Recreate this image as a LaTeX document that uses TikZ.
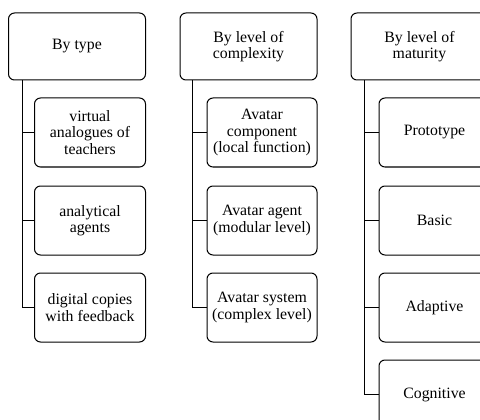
\documentclass[tikz,border=0pt]{standalone}
\usepackage{fontspec}
\setmainfont{Liberation Serif}
\usepackage{tikz}
\usetikzlibrary{positioning}

\begin{document}
\begin{tikzpicture}[x=1pt, y=1pt, line width=1pt, font=\fontsize{15.8}{16.2}\selectfont]
    \tikzstyle{head} = [rectangle, rounded corners=6pt, draw, minimum width=137pt, minimum height=67pt,
      text centered, align=center, inner sep=2pt]
    \tikzstyle{item} = [rectangle, rounded corners=6pt, draw, minimum width=111pt, minimum height=69pt,
      text centered, align=center, inner sep=2pt]

    \useasboundingbox (0,0) rectangle (480,-420);
    \clip (0,0) rectangle (480,-420);

    % column 1
    \node (type) [head] at (77,-46.5) {By type};
    \node (t1) [item, below=17pt of type.south east, anchor=north east] {virtual\\analogues of\\teachers};
    \node (t2) [item, below=18pt of t1] {analytical\\agents};
    \node (t3) [item, below=17pt of t2] {digital copies\\with feedback};

    % column 2
    \node (cplx) [head] at (248.5,-46.5) {By level of\\complexity};
    \node (c1) [item, minimum width=110pt, below=17pt of cplx.south east, anchor=north east] {Avatar\\component\\(local function)};
    \node (c2) [item, minimum width=110pt, below=18pt of c1] {Avatar agent\\(modular level)};
    \node (c3) [item, minimum width=110pt, below=17pt of c2] {Avatar system\\(complex level)};

    % column 3
    \node (matu) [head] at (419.5,-46.5) {By level of\\maturity};
    \node (m1) [item, below=17pt of matu.south east, anchor=north east, xshift=2pt] {Prototype};
    \node (m2) [item, below=18pt of m1] {Basic};
    \node (m3) [item, below=17pt of m2] {Adaptive};
    \node (m4) [item, below=17pt of m3] {Cognitive};

    \foreach \c in {t1,t2,t3}
      \draw ([xshift=14.5pt]type.south west) |- (\c.west);
    \foreach \c in {c1,c2,c3}
      \draw ([xshift=13pt]cplx.south west) |- (\c.west);
    \foreach \c in {m1,m2,m3,m4}
      \draw ([xshift=14pt]matu.south west) |- (\c.west);
\end{tikzpicture}
\end{document}
